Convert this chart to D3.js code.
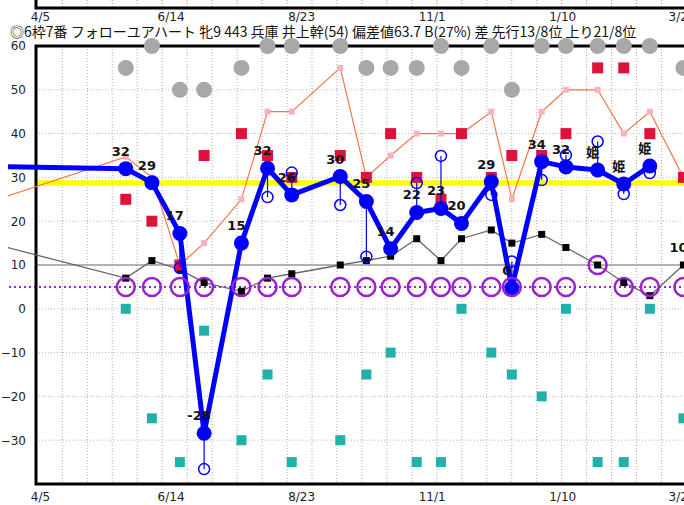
<!DOCTYPE html>
<html>
<head>
<meta charset="utf-8">
<script src="https://cdn.jsdelivr.net/npm/d3@7"></script>
<style>
  body { margin: 0; background: #fff; }
  svg { display: block; }
</style>
</head>
<body>
<div id="chart"></div>
<script>
// =========================
// DATA (days since 4/5)
// =========================
const raceDays = [-43, 46, 60, 75, 88, 108, 122, 135, 161, 175, 188, 202, 215, 226, 242, 253, 269, 282, 299, 313, 327, 345];

// main index (thick blue) + labels
const indexValues = [32.6, 32, 28.8, 17.2, -28.4, 15, 32.1, 26, 30.2, 24.5, 13.7, 22, 22.9, 19.5, 29, 4.8, 33.6, 32.4, 31.7, 28.5, 32.6, 10];
const indexLabels = [null, "32", "29", "17", "-28", "15", "32", "26", "30", "25", "14", "22", "23", "20", "29", "0", "34", "32", "姫", "姫", "姫", "10"];
// hollow blue markers hanging off the main index
const altValues = [null, null, null, 9.3, -36.6, null, 25.5, 31.1, 23.7, 11.9, null, 28.7, 34.9, null, 26, 10.8, 29.4, 35.1, 38.2, 26.2, 31, null];

const orangeValues = [22.1, 34.7, 30, 10, 15, 25, 45, 45, 55, 30, 35, 40, 40, 40, 45, 25, 45, 50, 50, 40, 45, 30];
const redValues = [null, 25, 20, 10, 35, 40, 35, 30, 35, 30, 40, 30, 25, 40, 30, 35, 35, 40, 55, 55, 40, 30];
const blackValues = [16.8, 7, 11, 9, 6, 4, 7, 8, 10, 11, 12, 16, 11, 16, 18, 15, 17, 14, 10, 6, 3, 10];
const tealValues = [null, 0, -25, -35, -5, -30, -15, -35, -30, -15, -10, -35, -35, 0, -10, -15, -20, 0, -35, -35, 0, -25];
const grayValues = [null, 55, 60, 50, 50, 55, 60, 60, 60, 55, 55, 55, 60, 55, 60, 50, 60, 60, 60, 60, 60, 55];
const purpleValues = [5, 5, 5, 5, 5, 5, 5, 5, 5, 5, 5, 5, 5, 5, 5, 5, 5, 5, 10, 5, 5, 5];

const baseLine = 28.7;   // yellow
const purpleLine = 5;    // dotted purple

const xTickDays = [0, 70, 140, 210, 280, 344];
const xTickLabels = ["4/5", "6/14", "8/23", "11/1", "1/10", "3/21"];
const yTicks = [-30, -20, -10, 0, 10, 20, 30, 40, 50, 60];
const gridStart = -1.45, gridStep = 13.39;

const title = "◎6枠7番 フォローユアハート 牝9 443 兵庫 井上幹(54) 偏差値63.7 B(27%) 差 先行13/8位 上り21/8位";

// =========================
// SETUP
// =========================
const width = 684, height = 505;
const plot = { left: 36, right: 720, top: 46, bottom: 484 };

const svg = d3.select("#chart")
  .append("svg")
  .attr("width", width)
  .attr("height", height)
  .style("background", "#fff");

const x = d3.scaleLinear().domain([0, 70]).range([40, 170.55]);
const y = d3.scaleLinear().domain([-40, 60]).range([plot.bottom, plot.top]);

const races = raceDays.map((d, i) => ({
  day: d,
  index: indexValues[i],
  label: indexLabels[i],
  alt: altValues[i],
  orange: orangeValues[i],
  red: redValues[i],
  black: blackValues[i],
  teal: tealValues[i],
  gray: grayValues[i],
  purple: purpleValues[i]
}));
// the last race only shows its label, its point sits past the edge
const linked = races.slice(0, races.length - 1);

svg.append("defs").append("clipPath")
  .attr("id", "clip")
  .append("rect")
  .attr("x", 8).attr("y", 0)
  .attr("width", width).attr("height", height);

const gridDays = d3.range(1, 28).map(k => gridStart + k * gridStep);

// =========================
// TOP REMNANT (previous panel)
// =========================
const topPanel = svg.append("g");
topPanel.selectAll("line.vg")
  .data(gridDays)
  .join("line")
  .attr("x1", d => x(d)).attr("x2", d => x(d))
  .attr("y1", 0).attr("y2", 8)
  .attr("stroke", "#999")
  .attr("stroke-dasharray", "1,2");
topPanel.append("path")
  .attr("d", `M${plot.left},0V8H${plot.right}`)
  .attr("fill", "none")
  .attr("stroke", "#000")
  .attr("stroke-width", 3);

const topAxis = svg.append("g")
  .attr("transform", "translate(0,8)")
  .call(d3.axisBottom(x).tickValues(xTickDays).tickFormat((d, i) => xTickLabels[i]).tickSize(0).tickPadding(4));
topAxis.select(".domain").remove();

// =========================
// TITLE
// =========================
svg.append("text")
  .attr("x", 10)
  .attr("y", 37)
  .style("font-family", "'Noto Sans CJK JP', sans-serif")
  .style("font-size", "14px")
  .style("fill", "#111")
  .text(title);

// =========================
// GRID
// =========================
const grid = svg.append("g");
grid.selectAll("line.vg")
  .data(gridDays)
  .join("line")
  .attr("x1", d => x(d)).attr("x2", d => x(d))
  .attr("y1", plot.top).attr("y2", plot.bottom)
  .attr("stroke", "#aaa")
  .attr("stroke-dasharray", "1,2");

grid.selectAll("line.hg")
  .data(yTicks.filter(v => v > -40 && v < 60))
  .join("line")
  .attr("x1", plot.left).attr("x2", plot.right)
  .attr("y1", d => y(d)).attr("y2", d => y(d))
  .attr("stroke", d => d === 10 ? "#999" : "#bbb")
  .attr("stroke-width", d => d === 10 ? 1.6 : 1)
  .attr("stroke-dasharray", d => d === 10 ? null : "1,2");

// =========================
// AXES
// =========================
const yAxis = svg.append("g")
  .attr("transform", `translate(${plot.left},0)`)
  .call(d3.axisLeft(y).tickValues(yTicks).tickSize(0).tickPadding(10));
yAxis.select(".domain").remove();

const xAxis = svg.append("g")
  .attr("transform", `translate(0,${plot.bottom})`)
  .call(d3.axisBottom(x).tickValues(xTickDays).tickFormat((d, i) => xTickLabels[i]).tickSize(0).tickPadding(8));
xAxis.select(".domain").remove();

svg.selectAll(".tick text")
  .style("font-family", "'DejaVu Sans', sans-serif")
  .style("font-size", "12px")
  .style("fill", "#222");

// =========================
// BASE LINES
// =========================
svg.append("line")
  .attr("x1", plot.left).attr("x2", plot.right)
  .attr("y1", y(baseLine)).attr("y2", y(baseLine))
  .attr("stroke", "#ffff00")
  .attr("stroke-width", 5.5);

svg.append("line")
  .attr("x1", 9).attr("x2", plot.right)
  .attr("y1", y(purpleLine)).attr("y2", y(purpleLine))
  .attr("stroke", "#a020e0")
  .attr("stroke-width", 2)
  .attr("stroke-dasharray", "2,3");

// border
svg.append("path")
  .attr("d", `M${plot.right},${plot.top}H${plot.left}V${plot.bottom}H${plot.right}`)
  .attr("fill", "none")
  .attr("stroke", "#000")
  .attr("stroke-width", 3);

const series = svg.append("g").attr("clip-path", "url(#clip)");

// =========================
// BLACK / GRAY LINE
// =========================
series.append("path")
  .datum(races)
  .attr("fill", "none")
  .attr("stroke", "#666")
  .attr("stroke-width", 1.3)
  .attr("d", d3.line().x(d => x(d.day)).y(d => y(d.black)));

series.selectAll("rect.black")
  .data(races)
  .join("rect")
  .attr("x", d => x(d.day) - 3.5).attr("y", d => y(d.black) - 3.5)
  .attr("width", 7).attr("height", 7)
  .attr("fill", "#000");

// =========================
// ORANGE LINE
// =========================
series.append("path")
  .datum(races)
  .attr("fill", "none")
  .attr("stroke", "#f07848")
  .attr("stroke-width", 1.2)
  .attr("d", d3.line().x(d => x(d.day)).y(d => y(d.orange)));

series.selectAll("rect.pink")
  .data(races)
  .join("rect")
  .attr("x", d => x(d.day) - 3).attr("y", d => y(d.orange) - 3)
  .attr("width", 6).attr("height", 6)
  .attr("fill", "#ffb0c0");

// =========================
// SQUARES
// =========================
series.selectAll("rect.red")
  .data(races.filter(d => d.red != null))
  .join("rect")
  .attr("x", d => x(d.day) - 5.5).attr("y", d => y(d.red) - 5.5)
  .attr("width", 11).attr("height", 11)
  .attr("fill", "#dc143c");

series.selectAll("rect.teal")
  .data(races.filter(d => d.teal != null))
  .join("rect")
  .attr("x", d => x(d.day) - 5).attr("y", d => y(d.teal) - 5)
  .attr("width", 10).attr("height", 10)
  .attr("fill", "#20b2aa");

// =========================
// HOLLOW BLUE MARKERS
// =========================
const alts = races.filter(d => d.alt != null);
series.selectAll("line.stem")
  .data(alts)
  .join("line")
  .attr("x1", d => x(d.day)).attr("x2", d => x(d.day))
  .attr("y1", d => y(d.index)).attr("y2", d => y(d.alt))
  .attr("stroke", "#0000ff")
  .attr("stroke-width", 1.2);

series.selectAll("circle.alt")
  .data(alts)
  .join("circle")
  .attr("cx", d => x(d.day)).attr("cy", d => y(d.alt))
  .attr("r", 5.5)
  .attr("fill", "none")
  .attr("stroke", "#0000ff")
  .attr("stroke-width", 1.5);

// =========================
// MAIN INDEX LINE
// =========================
series.append("path")
  .datum(linked)
  .attr("fill", "none")
  .attr("stroke", "#0000ff")
  .attr("stroke-width", 5)
  .attr("stroke-linejoin", "round")
  .attr("d", d3.line().x(d => x(d.day)).y(d => y(d.index)));

series.selectAll("circle.main")
  .data(linked)
  .join("circle")
  .attr("cx", d => x(d.day)).attr("cy", d => y(d.index))
  .attr("r", 7.5)
  .attr("fill", "#0000ff");

// purple rings
series.selectAll("circle.purple")
  .data(races)
  .join("circle")
  .attr("cx", d => x(d.day)).attr("cy", d => y(d.purple))
  .attr("r", 9)
  .attr("fill", "none")
  .attr("stroke", "#9a20d0")
  .attr("stroke-width", 2.5);

// labels
series.selectAll("text.lbl")
  .data(races.filter(d => d.label))
  .join("text")
  .attr("x", d => x(d.day) - 5)
  .attr("y", d => y(d.index) - 13)
  .attr("text-anchor", "middle")
  .style("font-family", "'DejaVu Sans', 'Noto Sans CJK JP', sans-serif")
  .style("font-weight", "bold")
  .style("font-size", "13px")
  .style("fill", "#111")
  .text(d => d.label);

// gray circles on top
svg.selectAll("circle.gray")
  .data(races.filter(d => d.gray != null))
  .join("circle")
  .attr("cx", d => x(d.day)).attr("cy", d => y(d.gray))
  .attr("r", 8)
  .attr("fill", "#a8a8a8");
</script>
</body>
</html>
